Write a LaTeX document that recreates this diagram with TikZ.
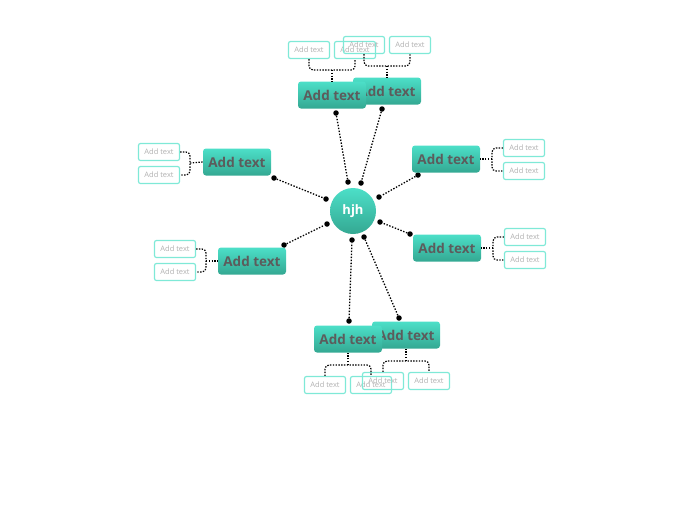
\documentclass[tikz,border=0pt]{standalone}
\usepackage{fontspec}
\setmainfont{Open Sans}
\definecolor{tealtop}{HTML}{4CDFC8}
\definecolor{tealbot}{HTML}{34A892}
\definecolor{maintext}{HTML}{5C5C5C}
\definecolor{subborder}{HTML}{7FE9D7}
\definecolor{subtext}{HTML}{B0B0B0}
\tikzset{
 topic/.style={rounded corners=3pt, top color=tealtop, bottom color=tealbot, minimum width=68pt, minimum height=27pt, inner sep=0pt, font=\bfseries\fontsize{13.5}{14}\selectfont, text=maintext},
 sub/.style={draw=subborder, line width=1.2pt, rounded corners=2pt, minimum width=41pt, minimum height=17pt, inner sep=0pt, font=\fontsize{7.5}{8}\selectfont, text=subtext},
 link/.style={dash pattern=on 1.4pt off 1.6pt, line width=1.3pt},
 dotend/.style={circle, fill=black, inner sep=0pt, minimum size=5.5pt},
 bracket/.style={dash pattern=on 1.4pt off 1.4pt, line width=1.2pt, rounded corners=4pt}
}
\begin{document}
\begin{tikzpicture}[x=1pt,y=-1pt]
\useasboundingbox (0,0) rectangle (696,520);
% center
\node[circle, minimum size=46pt, inner sep=0pt, top color=tealtop, bottom color=tealbot, text=white, font=\bfseries\fontsize{13}{14}\selectfont] (c) at (353,211) {hjh};
% dots
\foreach \n/\x/\y in {a1/336/113, a2/348/182, b1/382/109, b2/361/183, l1/274/178, l2/326/199, r1/418/175, r2/379/197, s1/410/234, s2/380/222, m1/284/245, m2/327/224, p1/349/321, p2/352/240, q1/399/318, q2/364/237}
  \node[dotend] (\n) at (\x,\y) {};
\draw[link] (a1) -- (a2);
\draw[link] (b1) -- (b2);
\draw[link] (l1) -- (l2);
\draw[link] (r1) -- (r2);
\draw[link] (s1) -- (s2);
\draw[link] (m1) -- (m2);
\draw[link] (p1) -- (p2);
\draw[link] (q1) -- (q2);
% topics
\node[topic] (T2) at (387,91) {Add text};
\node[topic] (T1) at (332,95) {Add text};
\node[topic] (L1) at (237,162) {Add text};
\node[topic] (R1) at (446,159) {Add text};
\node[topic] (R2) at (447,248) {Add text};
\node[topic] (L2) at (252,261) {Add text};
\node[topic] (B2) at (406,335) {Add text};
\node[topic] (B1) at (348,339) {Add text};
% subtopics
\node[sub] (T1a) at (309,50) {Add text};
\node[sub] (T1b) at (355,50) {Add text};
\node[sub] (T2a) at (364,45) {Add text};
\node[sub] (T2b) at (410,45) {Add text};
\node[sub] (L1a) at (159,152) {Add text};
\node[sub] (L1b) at (159,175) {Add text};
\node[sub] (R1a) at (524,148) {Add text};
\node[sub] (R1b) at (524,171) {Add text};
\node[sub] (R2a) at (525,237) {Add text};
\node[sub] (R2b) at (525,260) {Add text};
\node[sub] (L2a) at (175,249) {Add text};
\node[sub] (L2b) at (175,272) {Add text};
\node[sub] (B1a) at (325,385) {Add text};
\node[sub] (B1b) at (371,385) {Add text};
\node[sub] (B2a) at (383,381) {Add text};
\node[sub] (B2b) at (429,381) {Add text};
% brackets
\coordinate (jT1) at (332,70);
\draw[bracket] (T1a.south) |- (jT1) -| (T1b.south);
\draw[bracket] (jT1) -- (T1.north);
\coordinate (jT2) at (387,66);
\draw[bracket] (T2a.south) |- (jT2) -| (T2b.south);
\draw[bracket] (jT2) -- (T2.north);
\coordinate (jB1) at (348,365);
\draw[bracket] (B1a.north) |- (jB1) -| (B1b.north);
\draw[bracket] (jB1) -- (B1.south);
\coordinate (jB2) at (406,361);
\draw[bracket] (B2a.north) |- (jB2) -| (B2b.north);
\draw[bracket] (jB2) -- (B2.south);
\coordinate (jL1) at (190,163);
\draw[bracket] (L1a.east) -| (jL1) |- (L1b.east);
\draw[bracket] (jL1) -- (L1.west);
\coordinate (jL2) at (206,261);
\draw[bracket] (L2a.east) -| (jL2) |- (L2b.east);
\draw[bracket] (jL2) -- (L2.west);
\coordinate (jR1) at (492,159);
\draw[bracket] (R1a.west) -| (jR1) |- (R1b.west);
\draw[bracket] (jR1) -- (R1.east);
\coordinate (jR2) at (493,248);
\draw[bracket] (R2a.west) -| (jR2) |- (R2b.west);
\draw[bracket] (jR2) -- (R2.east);
\end{tikzpicture}
\end{document}
